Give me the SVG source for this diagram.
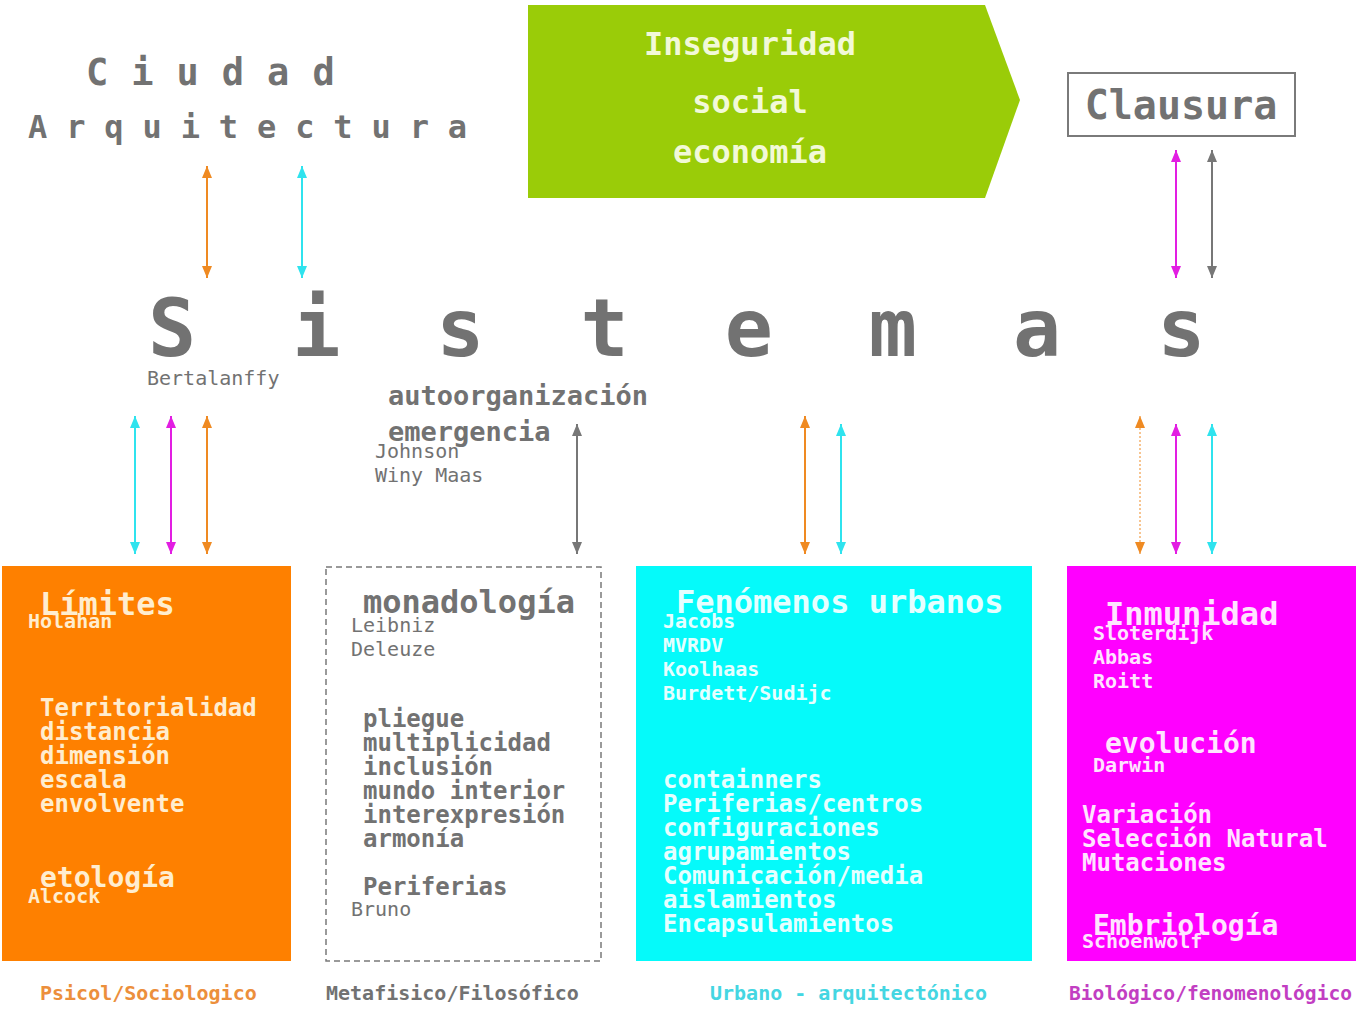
<svg xmlns="http://www.w3.org/2000/svg" width="1356" height="1009" viewBox="0 0 1356 1009">
  <style>
    text { font-family: "DejaVu Sans Mono", "Liberation Mono", monospace; font-weight: bold; }
    .gray { fill: #727272; }
    .thin { font-weight: normal; }
    .t32 { font-size: 32px; }
    .t28 { font-size: 28px; }
    .t24 { font-size: 24px; }
    .t20 { font-size: 20px; }
    .cream { fill: #ffedcf; }
    .aqua { fill: #e6ffff; }
    .pink { fill: #ffe4ff; }
    .link { stroke-width: 2; fill: none; }
  </style>
  <defs>
    <marker id="hOrange" viewBox="0 0 12 10" refX="12" refY="5" markerWidth="12" markerHeight="10" markerUnits="userSpaceOnUse" orient="auto-start-reverse"><path d="M0,0 L12,5 L0,10 Z" fill="#ef8a22"/></marker>
    <marker id="hCyan" viewBox="0 0 12 10" refX="12" refY="5" markerWidth="12" markerHeight="10" markerUnits="userSpaceOnUse" orient="auto-start-reverse"><path d="M0,0 L12,5 L0,10 Z" fill="#2fe3ee"/></marker>
    <marker id="hMagenta" viewBox="0 0 12 10" refX="12" refY="5" markerWidth="12" markerHeight="10" markerUnits="userSpaceOnUse" orient="auto-start-reverse"><path d="M0,0 L12,5 L0,10 Z" fill="#e21ee2"/></marker>
    <marker id="hGray" viewBox="0 0 12 10" refX="12" refY="5" markerWidth="12" markerHeight="10" markerUnits="userSpaceOnUse" orient="auto-start-reverse"><path d="M0,0 L12,5 L0,10 Z" fill="#777777"/></marker>
  </defs>

  <rect width="1356" height="1009" fill="#ffffff"/>

  <!-- headings -->
  <g id="ciudad">
    <text x="86" y="85" class="gray" font-size="37" letter-spacing="23">Ciudad</text>
    <text x="28" y="138" class="gray" font-size="32" letter-spacing="18.9">Arquitectura</text>
  </g>

  <g id="inseguridad">
    <polygon points="528,5 985,5 1020,100 985,198 528,198" fill="#9acc08"/>
    <text x="750" y="55" class="t32" fill="#f2f9d8" text-anchor="middle">Inseguridad</text>
    <text x="750" y="113" class="t32" fill="#f2f9d8" text-anchor="middle">social</text>
    <text x="750" y="163" class="t32" fill="#f2f9d8" text-anchor="middle">economía</text>
  </g>

  <g id="clausura">
    <rect x="1068" y="73" width="227" height="63" fill="#ffffff" stroke="#7a7a7a" stroke-width="2"/>
    <text x="1181" y="119" class="gray" font-size="40" text-anchor="middle">Clausura</text>
  </g>

  <g id="sistemas">
    <text x="148" y="356" class="gray" font-size="80" letter-spacing="96">Sistemas</text>
    <text x="147" y="385" class="gray thin t20">Bertalanffy</text>
  </g>

  <g id="autoorganizacion">
    <text x="388" y="405" class="gray" font-size="27">autoorganización</text>
    <text x="388" y="441" class="gray" font-size="27">emergencia</text>
    <text x="375" y="458" class="gray thin t20">Johnson</text>
    <text x="375" y="482" class="gray thin t20">Winy Maas</text>
  </g>

  <!-- connectors -->
  <g id="connectors">
    <line class="link" x1="207" y1="166" x2="207" y2="278" stroke="#ef8a22" marker-start="url(#hOrange)" marker-end="url(#hOrange)"/>
    <line class="link" x1="302" y1="166" x2="302" y2="278" stroke="#2fe3ee" marker-start="url(#hCyan)" marker-end="url(#hCyan)"/>
    <line class="link" x1="1176" y1="150" x2="1176" y2="278" stroke="#e21ee2" marker-start="url(#hMagenta)" marker-end="url(#hMagenta)"/>
    <line class="link" x1="1212" y1="150" x2="1212" y2="278" stroke="#777777" marker-start="url(#hGray)" marker-end="url(#hGray)"/>

    <line class="link" x1="135" y1="416" x2="135" y2="554" stroke="#2fe3ee" marker-start="url(#hCyan)" marker-end="url(#hCyan)"/>
    <line class="link" x1="171" y1="416" x2="171" y2="554" stroke="#e21ee2" marker-start="url(#hMagenta)" marker-end="url(#hMagenta)"/>
    <line class="link" x1="207" y1="416" x2="207" y2="554" stroke="#ef8a22" marker-start="url(#hOrange)" marker-end="url(#hOrange)"/>

    <line class="link" x1="577" y1="424" x2="577" y2="554" stroke="#777777" marker-start="url(#hGray)" marker-end="url(#hGray)"/>

    <line class="link" x1="805" y1="416" x2="805" y2="554" stroke="#ef8a22" marker-start="url(#hOrange)" marker-end="url(#hOrange)"/>
    <line class="link" x1="841" y1="424" x2="841" y2="554" stroke="#2fe3ee" marker-start="url(#hCyan)" marker-end="url(#hCyan)"/>

    <line x1="1140" y1="416" x2="1140" y2="554" stroke="#ef8a22" stroke-width="1" stroke-dasharray="2 2" marker-start="url(#hOrange)" marker-end="url(#hOrange)"/>
    <line class="link" x1="1176" y1="424" x2="1176" y2="554" stroke="#e21ee2" marker-start="url(#hMagenta)" marker-end="url(#hMagenta)"/>
    <line class="link" x1="1212" y1="424" x2="1212" y2="554" stroke="#2fe3ee" marker-start="url(#hCyan)" marker-end="url(#hCyan)"/>
  </g>

  <!-- psychological / sociological -->
  <g id="limites">
    <rect x="2" y="566" width="289" height="395" fill="#fe8000"/>
    <text x="40" y="615" class="cream t32">Límites</text>
    <text x="28" y="628" class="cream t20">Holahan</text>
    <text x="40" y="716" class="cream t24">Territorialidad</text>
    <text x="40" y="740" class="cream t24">distancia</text>
    <text x="40" y="764" class="cream t24">dimensión</text>
    <text x="40" y="788" class="cream t24">escala</text>
    <text x="40" y="812" class="cream t24">envolvente</text>
    <text x="40" y="887" class="cream t28">etología</text>
    <text x="28" y="903" class="cream t20">Alcock</text>
    <text x="40" y="1000" class="t20" fill="#ec8f3c">Psicol/Sociologico</text>
  </g>

  <!-- metaphysical / philosophical -->
  <g id="monadologia">
    <rect x="326" y="567" width="275" height="394" fill="none" stroke="#7a7a7a" stroke-width="1.5" stroke-dasharray="6 4"/>
    <text x="363" y="613" class="gray t32">monadología</text>
    <text x="351" y="632" class="gray thin t20">Leibniz</text>
    <text x="351" y="656" class="gray thin t20">Deleuze</text>
    <text x="363" y="727" class="gray t24">pliegue</text>
    <text x="363" y="751" class="gray t24">multiplicidad</text>
    <text x="363" y="775" class="gray t24">inclusión</text>
    <text x="363" y="799" class="gray t24">mundo interior</text>
    <text x="363" y="823" class="gray t24">interexpresión</text>
    <text x="363" y="847" class="gray t24">armonía</text>
    <text x="363" y="895" class="gray t24">Periferias</text>
    <text x="351" y="916" class="gray thin t20">Bruno</text>
    <text x="326" y="1000" class="gray t20">Metafisico/Filosófico</text>
  </g>

  <!-- urban / architectural -->
  <g id="fenomenos">
    <rect x="636" y="566" width="396" height="395" fill="#05fafa"/>
    <text x="676" y="613" class="aqua t32">Fenómenos urbanos</text>
    <text x="663" y="628" class="aqua t20">Jacobs</text>
    <text x="663" y="652" class="aqua t20">MVRDV</text>
    <text x="663" y="676" class="aqua t20">Koolhaas</text>
    <text x="663" y="700" class="aqua t20">Burdett/Sudijc</text>
    <text x="663" y="788" class="aqua t24">containners</text>
    <text x="663" y="812" class="aqua t24">Periferias/centros</text>
    <text x="663" y="836" class="aqua t24">configuraciones</text>
    <text x="663" y="860" class="aqua t24">agrupamientos</text>
    <text x="663" y="884" class="aqua t24">Comunicación/media</text>
    <text x="663" y="908" class="aqua t24">aislamientos</text>
    <text x="663" y="932" class="aqua t24">Encapsulamientos</text>
    <text x="710" y="1000" class="t20" fill="#44d6e2">Urbano - arquitectónico</text>
  </g>

  <!-- biological / phenomenological -->
  <g id="inmunidad">
    <rect x="1067" y="566" width="289" height="395" fill="#ff00ff"/>
    <text x="1105" y="625" class="pink t32">Inmunidad</text>
    <text x="1093" y="640" class="pink t20">Sloterdijk</text>
    <text x="1093" y="664" class="pink t20">Abbas</text>
    <text x="1093" y="688" class="pink t20">Roitt</text>
    <text x="1105" y="753" class="pink t28">evolución</text>
    <text x="1093" y="772" class="pink t20">Darwin</text>
    <text x="1082" y="823" class="pink t24">Variación</text>
    <text x="1082" y="847" class="pink t24">Selección Natural</text>
    <text x="1082" y="871" class="pink t24">Mutaciones</text>
    <text x="1093" y="935" class="pink t28">Embriología</text>
    <text x="1082" y="948" class="pink t20">Schoenwolf</text>
    <text x="1069" y="1000" class="t20" fill="#c23ec2" textLength="283" lengthAdjust="spacingAndGlyphs">Biológico/fenomenológico</text>
  </g>
</svg>
